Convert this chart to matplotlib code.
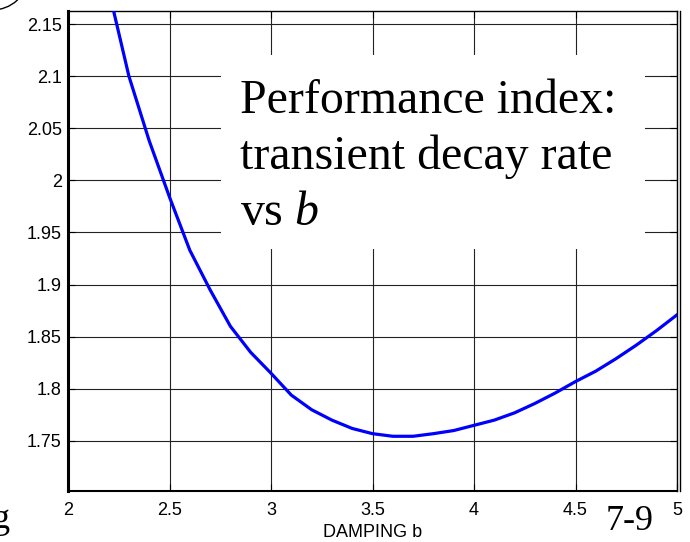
import matplotlib
matplotlib.use("Agg")
import matplotlib.pyplot as plt
from matplotlib.patches import Rectangle, Ellipse
from matplotlib.ticker import FuncFormatter
from matplotlib.transforms import IdentityTransform

# damping sweep and resulting transient decay rate index
damping = [2.2, 2.3, 2.4, 2.5, 2.6, 2.7, 2.8, 2.9, 3.0, 3.1, 3.2, 3.3, 3.4, 3.5,
           3.6, 3.7, 3.8, 3.9, 4.0, 4.1, 4.2, 4.3, 4.4, 4.5, 4.6, 4.7, 4.8, 4.9, 5.0]
decay_rate = [2.183, 2.100, 2.038, 1.984, 1.933, 1.895, 1.860, 1.835, 1.815,
              1.794, 1.780, 1.770, 1.762, 1.757, 1.7545, 1.7545, 1.757, 1.760,
              1.765, 1.770, 1.777, 1.786, 1.796, 1.807, 1.817, 1.829, 1.842,
              1.856, 1.871]

x_ticks = [2, 2.5, 3, 3.5, 4, 4.5, 5]
y_ticks = [1.75, 1.8, 1.85, 1.9, 1.95, 2, 2.05, 2.1, 2.15]

plt.rcParams["font.family"] = ["Liberation Sans", "DejaVu Sans"]
plt.rcParams["mathtext.fontset"] = "custom"
plt.rcParams["mathtext.rm"] = "Liberation Serif"
plt.rcParams["mathtext.it"] = "Liberation Serif:italic"

W, H = 690, 542
fig = plt.figure(figsize=(W / 100, H / 100), dpi=100)
ax = fig.add_axes([68 / W, (H - 491) / H, 609 / W, 480 / H])

ax.plot(damping, decay_rate, color=(0, 0, 1), lw=2.3, zorder=3, clip_on=True)

ax.set_xlim(2, 5)
ax.set_ylim(1.702, 2.1625)
ax.set_xticks(x_ticks)
ax.set_yticks(y_ticks)
fmt = FuncFormatter(lambda v, p: "%g" % v)
ax.xaxis.set_major_formatter(fmt)
ax.yaxis.set_major_formatter(fmt)
ax.tick_params(direction="in", length=5, width=0.8, labelsize=13,
               top=True, right=True, colors="black")
ax.tick_params(axis="y", pad=4.5)
ax.tick_params(axis="x", pad=8)
ax.grid(True, color="#222222", lw=0.8)

ax.spines["left"].set_linewidth(2.2)
ax.spines["bottom"].set_linewidth(1.5)
ax.spines["top"].set_linewidth(1.0)
ax.spines["right"].set_linewidth(1.0)

# second frame line on the right edge
fig.add_artist(plt.Line2D([680 / W, 680 / W], [(H - 491) / H, (H - 11) / H],
                          color="black", lw=1.0, transform=fig.transFigure))

ax.set_xlabel("DAMPING b", fontsize=13)
ax.xaxis.set_label_coords(0.5, -0.068)
ax.xaxis.label.set_va("top")

# white panel holding the caption
ax.add_patch(Rectangle((0.251, 0.504), 0.696, 0.404, transform=ax.transAxes,
                       facecolor="white", edgecolor="none", zorder=2))
caption = ["Performance index:", "transient decay rate", "vs $b$"]
baselines = [0.7875, 0.6708, 0.5542]
for line, yb in zip(caption, baselines):
    ax.text(0.2824, yb, line, transform=ax.transAxes, fontsize=34.5,
            family="Liberation Serif", va="baseline", ha="left", zorder=4)

# slide decorations around the plot
fig.text(10 / W, (H - 528) / H, "g", fontsize=26, family="Liberation Serif",
         ha="right", va="baseline")
fig.text(606 / W, (H - 530) / H, "7-9", fontsize=26, family="Liberation Serif",
         ha="left", va="baseline")
fig.add_artist(Ellipse((-8, H + 22), 70, 64, fill=False, edgecolor="black",
                       lw=1.0, transform=IdentityTransform()))

fig.savefig("out.png", dpi=100)
